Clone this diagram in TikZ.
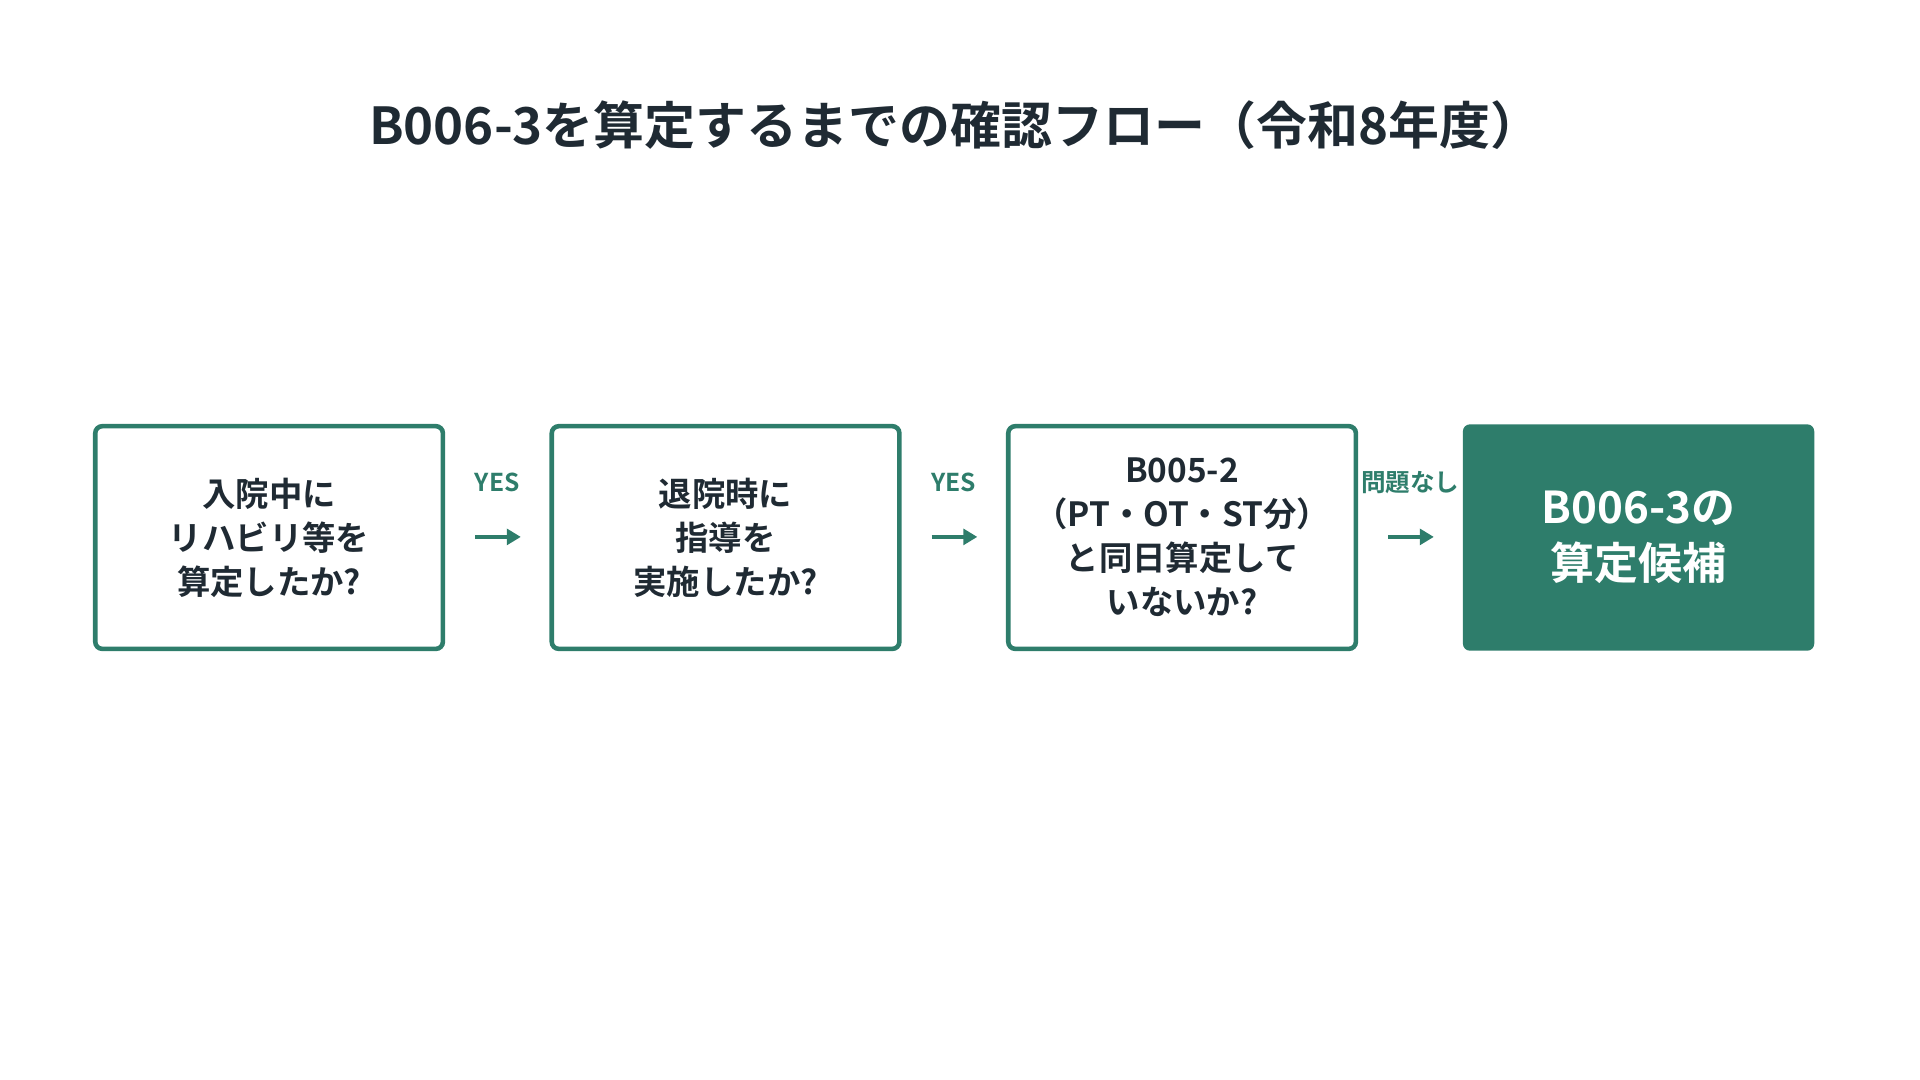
\documentclass[tikz,border=0pt]{standalone}
\usepackage{fontspec}
\setmainfont{Noto Sans CJK JP}[BoldFont={Noto Sans CJK JP Bold}]
\usetikzlibrary{arrows.meta}
\definecolor{g}{HTML}{2E7D6B}
\definecolor{tx}{HTML}{1F2A33}
\begin{document}
\begin{tikzpicture}[x=0.01237cm,y=-0.01237cm,
 box/.style={draw=g,line width=1.3pt,rounded corners=2pt,minimum width=281*0.01237cm,minimum height=180*0.01237cm,align=center,font=\fontsize{9.5}{12.5}\selectfont\bfseries,text=tx},
 fbox/.style={fill=g,rounded corners=2pt,minimum width=284*0.01237cm,minimum height=183*0.01237cm,align=center,font=\fontsize{12.5}{16}\selectfont\bfseries,text=white},
 lab/.style={font=\fontsize{7}{8}\selectfont\bfseries,text=g},
 arr/.style={draw=g,line width=1.3pt,-{Triangle[length=4pt,width=4.5pt]}}]
\useasboundingbox (0,0) rectangle (1552,873);
\node[font=\fontsize{14.5}{16}\selectfont\bfseries,text=tx] (t) at (772,101) {B006-3を算定するまでの確認フロー（令和8年度）};
\node[box] (b1) at (217.5,434.5) {入院中に\\リハビリ等を\\算定したか?};
\node[box] (b2) at (586.5,434.5) {退院時に\\指導を\\実施したか?};
\node[box] (b3) at (955.5,434.5) {B005-2\\（PT・OT・ST分）\\と同日算定して\\いないか?};
\node[fbox] (b4) at (1324.5,434.5) {B006-3の\\算定候補};
\coordinate (a1s) at (384,434); \coordinate (a1e) at (421,434);
\coordinate (a2s) at (753,434); \coordinate (a2e) at (790,434);
\coordinate (a3s) at (1122,434); \coordinate (a3e) at (1159,434);
\draw[arr] (a1s) -- (a1e);
\draw[arr] (a2s) -- (a2e);
\draw[arr] (a3s) -- (a3e);
\node[lab] (l1) at (402,390) {YES};
\node[lab] (l2) at (771,390) {YES};
\node[lab] (l3) at (1140,390) {問題なし};
\end{tikzpicture}
\end{document}
